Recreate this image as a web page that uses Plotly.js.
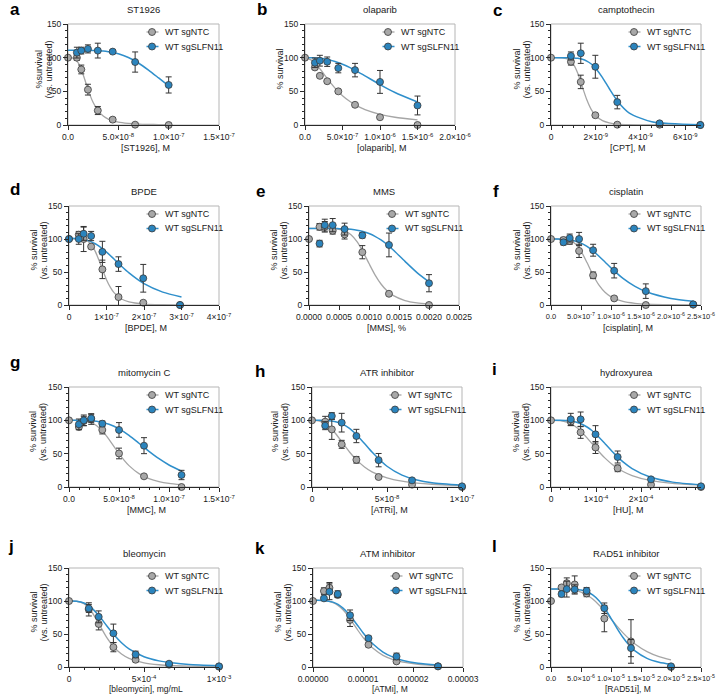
<!DOCTYPE html>
<html>
<head>
<meta charset="utf-8">
<script src="https://cdn.plot.ly/plotly-3.0.1.min.js"></script>
<style>
  html, body { margin: 0; padding: 0; background: #fff; }
  #chart { width: 718px; height: 694px; }
</style>
</head>
<body>
<div id="chart"></div>
<script>
// ---------- a: ST1926 ----------
const aDoseNtc = [0, 8.8e-9, 1.32e-8, 1.98e-8, 2.96e-8, 4.44e-8, 6.67e-8, 1.0e-7];
const aNtc = [100, 100, 82.5, 52.5, 21.5, 8, 0.5, 0];
const aNtcErr = [0, 4, 6.5, 8, 6, 3, 1, 0];
const aDoseSlfn = [8.8e-9, 1.32e-8, 1.98e-8, 2.96e-8, 4.44e-8, 6.67e-8, 1.0e-7];
const aSlfn = [107.5, 110.5, 113, 110.5, 109, 93.5, 59.5];
const aSlfnErr = [8, 5, 6, 11, 2, 15, 12];
const aFitX = [0, 0.5e-8, 1e-8, 1.5e-8, 2e-8, 2.5e-8, 3e-8, 3.5e-8, 4e-8, 5e-8, 6e-8, 7e-8, 8e-8, 9e-8, 1e-7];
const aFitNtc = [100, 99.3, 92.5, 74.9, 52.2, 33.3, 20.9, 13.3, 8.8, 4.2, 2.3, 1.3, 0.85, 0.6, 0.4];
const aFitSlfn = [111, 111, 111, 111, 110.9, 110.7, 110.3, 109.8, 108.8, 105.7, 100.2, 92.1, 81.6, 69.9, 58.0];
const aTickVals = [0, 5e-8, 1e-7, 1.5e-7];
const aTickText = ['0.0', '5.0×10<sup>-8</sup>', '1.0×10<sup>-7</sup>', '1.5×10<sup>-7</sup>'];

// ---------- b: olaparib ----------
const bDoseNtc = [0, 1.32e-7, 1.98e-7, 2.96e-7, 4.44e-7, 6.67e-7, 1.0e-6, 1.5e-6];
const bNtc = [100, 85.5, 73, 65, 50, 30, 11.5, 0];
const bNtcErr = [0, 3, 2, 2, 2, 2, 2, 1];
const bDoseSlfn = [1.32e-7, 1.98e-7, 2.96e-7, 4.44e-7, 6.67e-7, 1.0e-6, 1.5e-6];
const bSlfn = [92.5, 95.5, 94, 84.5, 81.5, 64, 29];
const bSlfnErr = [7, 8, 7, 7, 10, 17, 14];
const bFitX = [0, 1e-7, 2e-7, 3e-7, 4e-7, 5e-7, 6e-7, 7e-7, 8e-7, 1.0e-6, 1.2e-6, 1.5e-6];
const bFitNtc = [100, 95.3, 83.2, 68.5, 54.8, 43.5, 34.8, 28.0, 22.9, 15.9, 11.5, 7.7];
const bFitSlfn = [100, 99.8, 99.0, 97.3, 94.4, 90.3, 85.2, 79.3, 73.0, 60.0, 48.2, 34.1];
const bTickVals = [0, 5e-7, 1e-6, 1.5e-6, 2e-6];
const bTickText = ['0.0', '5.0×10<sup>-7</sup>', '1.0×10<sup>-6</sup>', '1.5×10<sup>-6</sup>', '2.0×10<sup>-6</sup>'];

// ---------- c: camptothecin ----------
const cDoseNtc = [0, 0.89e-9, 1.33e-9, 1.98e-9, 2.96e-9, 4.85e-9, 6.67e-9];
const cNtc = [100, 94, 64, 14.5, 0.5, 0.5, 0];
const cNtcErr = [0, 5, 10, 2, 1, 1, 0];
const cDoseSlfn = [0.89e-9, 1.33e-9, 1.98e-9, 2.96e-9, 4.85e-9, 6.67e-9];
const cSlfn = [102.5, 106.5, 86.5, 34, 2.5, 0];
const cSlfnErr = [6, 15, 17, 10, 2, 0];
const cFitX = [0, 0.5e-9, 0.8e-9, 1.0e-9, 1.2e-9, 1.4e-9, 1.6e-9, 1.8e-9, 2.0e-9, 2.3e-9, 2.6e-9, 3.0e-9, 3.5e-9, 4.5e-9, 6.67e-9];
const cFitNtc = [100, 99.8, 97.3, 90.5, 76.5, 56.7, 37.4, 22.9, 13.8, 6.6, 3.3, 1.4, 0.6, 0.1, 0];
const cFitSlfn = [100, 100, 99.9, 99.6, 99.0, 97.6, 94.9, 90.6, 84.0, 70.4, 54.2, 34.3, 17.8, 4.9, 0.55];
const cTickVals = [0, 2e-9, 4e-9, 6e-9];
const cTickText = ['0', '2×10<sup>-9</sup>', '4×10<sup>-9</sup>', '6×10<sup>-9</sup>'];

// ---------- d: BPDE ----------
const dDoseNtc = [0, 0.26e-7, 0.39e-7, 0.59e-7, 0.89e-7, 1.32e-7, 1.98e-7, 2.96e-7];
const dNtc = [100, 106.5, 100, 88.5, 54, 12, 3.5, 0];
const dNtcErr = [0, 5, 19, 3, 14, 16, 2, 0];
const dDoseSlfn = [0, 0.26e-7, 0.39e-7, 0.59e-7, 0.89e-7, 1.32e-7, 1.98e-7, 2.96e-7];
const dSlfn = [100, 100, 108, 104.5, 80.5, 62, 40.5, 0];
const dSlfnErr = [0, 8, 10, 7, 16, 11, 21, 1];
const dFitX = [0, 0.2e-7, 0.4e-7, 0.5e-7, 0.6e-7, 0.7e-7, 0.8e-7, 0.9e-7, 1.0e-7, 1.1e-7, 1.2e-7, 1.4e-7, 1.6e-7, 2.0e-7, 2.5e-7, 3.0e-7];
const dFitNtc = [100, 100, 98.9, 96.5, 91.0, 81.3, 67.7, 52.5, 38.3, 27.0, 18.7, 9.0, 4.6, 1.4, 0.4, 0.15];
const dFitSlfn = [101, 100.8, 99.4, 97.9, 95.7, 92.8, 89.2, 84.9, 80.2, 75.0, 69.6, 58.7, 48.6, 32.3, 19.5, 12.2];
const dTickVals = [0, 1e-7, 2e-7, 3e-7, 4e-7];
const dTickText = ['0', '1×10<sup>-7</sup>', '2×10<sup>-7</sup>', '3×10<sup>-7</sup>', '4×10<sup>-7</sup>'];

// ---------- e: MMS ----------
const eDoseNtc = [0, 1.76e-4, 2.63e-4, 3.95e-4, 5.93e-4, 8.89e-4, 1.333e-3, 2.0e-3];
const eNtc = [100, 118.5, 118.5, 112.5, 107, 80, 17, 0];
const eNtcErr = [0, 5, 8, 5, 7, 10, 2, 0];
const eDoseSlfn = [1.76e-4, 2.63e-4, 3.95e-4, 5.93e-4, 8.89e-4, 1.333e-3, 2.0e-3];
const eSlfn = [93, 121, 121, 115, 105.5, 91, 33];
const eSlfnErr = [5, 9, 10, 9, 4, 18, 13];
const eFitX = [0, 0.2e-3, 0.4e-3, 0.5e-3, 0.6e-3, 0.7e-3, 0.8e-3, 0.9e-3, 1.0e-3, 1.1e-3, 1.2e-3, 1.3e-3, 1.4e-3, 1.6e-3, 1.8e-3, 2.0e-3];
const eFitNtc = [116, 116, 115.7, 114.7, 112.2, 106.4, 96.0, 80.7, 62.8, 45.7, 31.8, 21.5, 14.5, 6.8, 3.3, 1.75];
const eFitSlfn = [116, 116, 116, 115.7, 115.4, 114.6, 113.4, 111.3, 108.3, 104.1, 98.5, 91.7, 83.7, 66.1, 49.1, 35.0];
const eTickVals = [0, 0.0005, 0.001, 0.0015, 0.002, 0.0025];
const eTickText = ['0.0000', '0.0005', '0.0010', '0.0015', '0.0020', '0.0025'];

// ---------- f: cisplatin ----------
const fDoseNtc = [0, 0.208e-6, 0.312e-6, 0.468e-6, 0.702e-6, 1.053e-6, 1.58e-6, 2.37e-6];
const fNtc = [100, 98.5, 97, 82, 45, 10, 0, 0.5];
const fNtcErr = [0, 4, 5, 10, 5, 3, 0, 1];
const fDoseSlfn = [0.208e-6, 0.312e-6, 0.468e-6, 0.702e-6, 1.053e-6, 1.58e-6, 2.37e-6];
const fSlfn = [95, 101.5, 100, 83, 52, 21, 1];
const fSlfnErr = [4, 6, 10, 9, 11, 11, 2];
const fFitX = [0, 0.1e-6, 0.2e-6, 0.3e-6, 0.4e-6, 0.5e-6, 0.6e-6, 0.7e-6, 0.8e-6, 0.9e-6, 1.0e-6, 1.2e-6, 1.4e-6, 1.6e-6, 2.0e-6, 2.37e-6];
const fFitNtc = [100, 100, 99.8, 98.3, 93.1, 81.7, 64.3, 45.5, 30.1, 19.3, 12.4, 5.4, 2.6, 1.36, 0.45, 0.2];
const fFitSlfn = [100, 100, 99.7, 98.9, 97.0, 93.7, 88.7, 82.0, 73.9, 65.1, 56.3, 40.3, 28.2, 19.6, 10.0, 5.7];
const fTickVals = [0, 5e-7, 1e-6, 1.5e-6, 2e-6, 2.5e-6];
const fTickText = ['0.0', '5.0×10<sup>-7</sup>', '1.0×10<sup>-6</sup>', '1.5×10<sup>-6</sup>', '2.0×10<sup>-6</sup>', '2.5×10<sup>-6</sup>'];

// ---------- g: mitomycin C ----------
const gDoseNtc = [0, 0.99e-8, 1.48e-8, 2.22e-8, 3.33e-8, 5.0e-8, 7.5e-8, 11.25e-8];
const gNtc = [100, 90, 99, 102, 85.6, 50.3, 16, 0];
const gNtcErr = [0, 4, 7, 8, 6, 8, 2, 0];
const gDoseSlfn = [0.99e-8, 1.48e-8, 2.22e-8, 3.33e-8, 5.0e-8, 7.5e-8, 11.25e-8];
const gSlfn = [94, 100, 103, 95, 85.6, 62, 18];
const gSlfnErr = [8, 8, 6, 4, 11, 12, 7];
const gFitX = [0, 1e-8, 1.5e-8, 2e-8, 2.5e-8, 3e-8, 3.5e-8, 4e-8, 4.5e-8, 5e-8, 5.5e-8, 6e-8, 7e-8, 8e-8, 9e-8, 10e-8, 11.25e-8];
const gFitNtc = [100, 99.9, 99.3, 97.7, 94.5, 89.0, 81.2, 71.4, 60.6, 50, 40.4, 32.1, 20.1, 12.7, 8.2, 5.5, 3.5];
const gFitSlfn = [100, 100, 99.85, 99.55, 98.96, 97.95, 96.4, 94.1, 91.1, 87.3, 82.7, 77.4, 65.6, 53.5, 42.4, 33.0, 23.9];
const gTickVals = [0, 5e-8, 1e-7, 1.5e-7];
const gTickText = ['0.0', '5.0×10<sup>-8</sup>', '1.0×10<sup>-7</sup>', '1.5×10<sup>-7</sup>'];

// ---------- h: ATR inhibitor ----------
const hDoseNtc = [0, 0.878e-8, 1.32e-8, 1.98e-8, 2.96e-8, 4.44e-8, 6.67e-8, 1.0e-7];
const hNtc = [100, 98, 86.4, 64, 40.8, 15, 3.5, 0];
const hNtcErr = [0, 8, 15, 6, 5, 2, 1, 0];
const hDoseSlfn = [0.878e-8, 1.32e-8, 1.98e-8, 2.96e-8, 4.44e-8, 6.67e-8, 1.0e-7];
const hSlfn = [92, 106.5, 96.5, 76.5, 40.3, 10, 1];
const hSlfnErr = [6, 5, 14, 10, 10, 2, 1];
const hFitX = [0, 0.5e-8, 1e-8, 1.5e-8, 2e-8, 2.5e-8, 3e-8, 3.5e-8, 4e-8, 5e-8, 6e-8, 7e-8, 8e-8, 1e-7];
const hFitNtc = [100, 99.0, 93.5, 82.2, 67.4, 52.5, 39.9, 30.1, 22.8, 13.7, 8.7, 5.8, 4.1, 2.2];
const hFitSlfn = [100, 100, 99.6, 98.2, 94.6, 87.9, 77.7, 65.3, 52.5, 31.1, 17.9, 10.5, 6.5, 2.7];
const hTickVals = [0, 5e-8, 1e-7];
const hTickText = ['0', '5×10<sup>-8</sup>', '1×10<sup>-7</sup>'];

// ---------- i: hydroxyurea ----------
const iDoseNtc = [0, 0.439e-4, 0.658e-4, 0.988e-4, 1.48e-4, 2.22e-4, 3.33e-4];
const iNtc = [100, 98, 82, 59.3, 28, 3.5, 0];
const iNtcErr = [0, 6, 9, 9, 5, 1, 0];
const iDoseSlfn = [0.439e-4, 0.658e-4, 0.988e-4, 1.48e-4, 2.22e-4, 3.33e-4];
const iSlfn = [101.5, 101.5, 79, 45, 11.5, 1];
const iSlfnErr = [9, 11, 13, 9, 2, 1];
const iFitX = [0, 0.2e-4, 0.4e-4, 0.5e-4, 0.6e-4, 0.7e-4, 0.8e-4, 0.9e-4, 1.0e-4, 1.2e-4, 1.4e-4, 1.6e-4, 1.8e-4, 2.2e-4, 2.7e-4, 3.33e-4];
const iFitNtc = [100, 99.6, 96.3, 92.7, 87.6, 81.1, 73.7, 65.8, 57.8, 43.3, 31.7, 23.3, 17.2, 9.8, 5.35, 2.8];
const iFitSlfn = [100, 100, 99.3, 98.3, 96.5, 93.8, 90.0, 85.1, 79.1, 65.0, 50.4, 37.6, 27.6, 14.9, 7.3, 3.3];
const iTickVals = [0, 1e-4, 2e-4];
const iTickText = ['0', '1×10<sup>-4</sup>', '2×10<sup>-4</sup>'];

// ---------- j: bleomycin ----------
const jDoseNtc = [0, 1.32e-4, 1.98e-4, 2.96e-4, 4.44e-4, 6.67e-4, 1.0e-3];
const jNtc = [100, 87.3, 65.2, 30.1, 11, 3.5, 0.5];
const jNtcErr = [0, 10, 9, 7, 3, 1, 0];
const jDoseSlfn = [1.32e-4, 1.98e-4, 2.96e-4, 4.44e-4, 6.67e-4, 1.0e-3];
const jSlfn = [88.8, 76, 51, 19, 5, 1];
const jSlfnErr = [6, 9, 14, 5, 2, 1];
const jFitX = [0, 0.5e-4, 1e-4, 1.5e-4, 2e-4, 2.5e-4, 3e-4, 3.5e-4, 4e-4, 5e-4, 6e-4, 7e-4, 8e-4, 1e-3];
const jFitNtc = [100, 99.6, 95.8, 84.1, 65.0, 45.3, 30.0, 19.7, 13.1, 6.3, 3.4, 2.0, 1.2, 0.55];
const jFitSlfn = [100, 99.7, 97.0, 89.7, 77.6, 62.9, 48.7, 36.7, 27.4, 15.6, 9.3, 5.9, 3.9, 2.0];
const jTickVals = [0, 5e-4, 1e-3];
const jTickText = ['0', '5×10<sup>-4</sup>', '1×10<sup>-3</sup>'];

// ---------- k: ATM inhibitor ----------
const kDoseNtc = [0, 2.19e-6, 3.29e-6, 4.94e-6, 7.41e-6, 11.1e-6, 16.7e-6, 25e-6];
const kNtc = [100, 115, 120, 109, 71.4, 33.7, 8.5, 1];
const kNtcErr = [0, 5, 8, 3, 10, 3, 2, 1];
const kDoseSlfn = [2.19e-6, 3.29e-6, 4.94e-6, 7.41e-6, 11.1e-6, 16.7e-6, 25e-6];
const kSlfn = [104, 114, 110.5, 78.4, 43.7, 16, 1];
const kSlfnErr = [2, 12, 5, 8, 3, 5, 1];
const kFitX = [0, 2e-6, 4e-6, 5e-6, 6e-6, 7e-6, 8e-6, 9e-6, 10e-6, 11e-6, 12e-6, 14e-6, 16e-6, 18e-6, 21e-6, 25e-6];
const kFitNtc = [101, 100.8, 97.7, 93.4, 86.5, 77.3, 66.5, 55.3, 44.9, 35.8, 28.3, 17.7, 11.3, 7.4, 4.2, 2.1];
const kFitSlfn = [101, 100.8, 98.3, 94.9, 89.3, 81.6, 72.3, 62.1, 52.0, 42.8, 34.8, 22.7, 14.9, 10.0, 5.8, 3.0];
const kTickVals = [0, 1e-5, 2e-5, 3e-5];
const kTickText = ['0.00000', '0.00001', '0.00002', '0.00003'];

// ---------- l: RAD51 inhibitor ----------
const lDoseNtc = [0, 1.76e-6, 2.63e-6, 3.95e-6, 5.93e-6, 8.89e-6, 13.33e-6, 20e-6];
const lNtc = [100, 120.6, 127, 125, 111.5, 73.4, 38.7, 0];
const lNtcErr = [0, 3, 8, 13, 5, 20, 33, 0];
const lDoseSlfn = [1.76e-6, 2.63e-6, 3.95e-6, 5.93e-6, 8.89e-6, 13.33e-6, 20e-6];
const lSlfn = [110.5, 118, 117.5, 115.5, 89, 28.6, 1];
const lSlfnErr = [4, 12, 7, 5, 8, 13, 1];
const lFitX = [0, 2e-6, 4e-6, 5e-6, 6e-6, 7e-6, 8e-6, 9e-6, 10e-6, 11e-6, 12e-6, 13e-6, 14e-6, 16e-6, 18e-6, 20e-6];
const lFitNtc = [118, 117.9, 116.1, 113.5, 109.1, 102.6, 94.0, 83.8, 72.8, 61.9, 51.7, 42.7, 35.0, 23.4, 15.8, 10.9];
const lFitSlfn = [118, 118, 117.6, 116.5, 114.0, 108.9, 100.5, 88.4, 73.8, 58.6, 44.7, 33.2, 24.3, 13.0, 7.2, 4.1];
const lTickVals = [0, 5e-6, 1e-5, 1.5e-5, 2e-5, 2.5e-5];
const lTickText = ['0.0', '5.0×10<sup>-6</sup>', '1.0×10<sup>-5</sup>', '1.5×10<sup>-5</sup>', '2.0×10<sup>-5</sup>', '2.5×10<sup>-5</sup>'];

const seriesNames = ['WT sgNTC', 'WT sgSLFN11'];
const yLines = ['% survival', '(vs. untreated)'];

// Panel descriptions: which arrays go where, plus per-panel labels
const panels = [
  { letter: 'a', title: 'ST1926', xTitle: '[ST1926], M', yTitle: ['%survival', '(vs. untreated)'], yTx: [-30, -20], xMax: 1.5e-7, tv: aTickVals, tt: aTickText, minor: null, tickSize: 8.5,
    dn: aDoseNtc, n: aNtc, ne: aNtcErr, ds: aDoseSlfn, s: aSlfn, se: aSlfnErr, fx: aFitX, fn: aFitNtc, fs: aFitSlfn },
  { letter: 'b', title: 'olaparib', xTitle: '[olaparib], M', yTitle: ['% survival'], yTx: [-26], xMax: 2e-6, tv: bTickVals, tt: bTickText, minor: null, tickSize: 8.5,
    dn: bDoseNtc, n: bNtc, ne: bNtcErr, ds: bDoseSlfn, s: bSlfn, se: bSlfnErr, fx: bFitX, fn: bFitNtc, fs: bFitSlfn },
  { letter: 'c', title: 'camptothecin', xTitle: '[CPT], M', yTitle: yLines, yTx: [-35, -25], xMax: 6.7e-9, tv: cTickVals, tt: cTickText, minor: 5e-10, tickSize: 8.5,
    dn: cDoseNtc, n: cNtc, ne: cNtcErr, ds: cDoseSlfn, s: cSlfn, se: cSlfnErr, fx: cFitX, fn: cFitNtc, fs: cFitSlfn },
  { letter: 'd', title: 'BPDE', xTitle: '[BPDE], M', yTitle: yLines, yTx: [-36, -26], xMax: 4e-7, tv: dTickVals, tt: dTickText, minor: null, tickSize: 8.5,
    dn: dDoseNtc, n: dNtc, ne: dNtcErr, ds: dDoseSlfn, s: dSlfn, se: dSlfnErr, fx: dFitX, fn: dFitNtc, fs: dFitSlfn },
  { letter: 'e', title: 'MMS', xTitle: '[MMS], %', yTitle: yLines, yTx: [-36, -26], xMax: 0.0025, tv: eTickVals, tt: eTickText, minor: null, tickSize: 8.5,
    dn: eDoseNtc, n: eNtc, ne: eNtcErr, ds: eDoseSlfn, s: eSlfn, se: eSlfnErr, fx: eFitX, fn: eFitNtc, fs: eFitSlfn },
  { letter: 'f', title: 'cisplatin', xTitle: '[cisplatin], M', yTitle: yLines, yTx: [-35, -25], xMax: 2.5e-6, tv: fTickVals, tt: fTickText, minor: null, tickSize: 7.5,
    dn: fDoseNtc, n: fNtc, ne: fNtcErr, ds: fDoseSlfn, s: fSlfn, se: fSlfnErr, fx: fFitX, fn: fFitNtc, fs: fFitSlfn },
  { letter: 'g', title: 'mitomycin C', xTitle: '[MMC], M', yTitle: yLines, yTx: [-36, -26], xMax: 1.5e-7, tv: gTickVals, tt: gTickText, minor: 1e-8, tickSize: 8.5,
    dn: gDoseNtc, n: gNtc, ne: gNtcErr, ds: gDoseSlfn, s: gSlfn, se: gSlfnErr, fx: gFitX, fn: gFitNtc, fs: gFitSlfn },
  { letter: 'h', title: 'ATR inhibitor', xTitle: '[ATRi], M', yTitle: yLines, yTx: [-37, -27], xMax: 1e-7, tv: hTickVals, tt: hTickText, minor: 1e-8, tickSize: 8.5,
    dn: hDoseNtc, n: hNtc, ne: hNtcErr, ds: hDoseSlfn, s: hSlfn, se: hSlfnErr, fx: hFitX, fn: hFitNtc, fs: hFitSlfn },
  { letter: 'i', title: 'hydroxyurea', xTitle: '[HU], M', yTitle: yLines, yTx: [-35, -25], xMax: 3.33e-4, tv: iTickVals, tt: iTickText, minor: 2e-5, tickSize: 8.5,
    dn: iDoseNtc, n: iNtc, ne: iNtcErr, ds: iDoseSlfn, s: iSlfn, se: iSlfnErr, fx: iFitX, fn: iFitNtc, fs: iFitSlfn },
  { letter: 'j', title: 'bleomycin', xTitle: '[bleomycin], mg/mL', yTitle: yLines, yTx: [-36, -26], xMax: 1e-3, tv: jTickVals, tt: jTickText, minor: 1e-4, tickSize: 8.5,
    dn: jDoseNtc, n: jNtc, ne: jNtcErr, ds: jDoseSlfn, s: jSlfn, se: jSlfnErr, fx: jFitX, fn: jFitNtc, fs: jFitSlfn },
  { letter: 'k', title: 'ATM inhibitor', xTitle: '[ATMi], M', yTitle: yLines, yTx: [-36, -26], xMax: 3e-5, tv: kTickVals, tt: kTickText, minor: null, tickSize: 8.5,
    dn: kDoseNtc, n: kNtc, ne: kNtcErr, ds: kDoseSlfn, s: kSlfn, se: kSlfnErr, fx: kFitX, fn: kFitNtc, fs: kFitSlfn },
  { letter: 'l', title: 'RAD51 inhibitor', xTitle: '[RAD51i], M', yTitle: yLines, yTx: [-35, -25], xMax: 2.5e-5, tv: lTickVals, tt: lTickText, minor: null, tickSize: 7.5,
    dn: lDoseNtc, n: lNtc, ne: lNtcErr, ds: lDoseSlfn, s: lSlfn, se: lSlfnErr, fx: lFitX, fn: lFitNtc, fs: lFitSlfn }
];

// Plot boxes in pixels: [left, right, top, bottom]
const W = 718, H = 694;
const boxes = [
  [68, 219, 24, 125], [305, 455, 24, 125], [551, 701, 24, 125],
  [69, 219, 206, 305], [309, 459, 206, 305], [551, 701, 206, 305],
  [69, 219, 387, 487], [312, 462, 387, 487], [551, 701, 387, 487],
  [69, 219, 568, 667], [313, 463, 568, 667], [551, 701, 568, 667]
];
// Distance from the x axis down to the centre of its title, and title size, per panel
const xTitleGap = [23, 23, 23, 23, 23, 23, 23, 23, 23, 21.5, 21.5, 21.5];
const xTitleSize = [9, 9, 9, 9, 9, 9, 9, 9, 9, 8.5, 8.5, 8.5];
// Panel letter positions (px)
const letterPos = [[8, 9], [255, 9], [491, 10], [8, 190], [254, 191], [491, 191],
                   [8, 362], [253, 371], [490, 369], [6, 546], [253, 548], [490, 546]];

const FONT = '"Liberation Sans", Arial, Helvetica, sans-serif';
const TXT = '#1a1a1a';
const AX = '#2a2a2a';
const GREY_FILL = '#a8a8a8', GREY_LINE = '#a6a6a6';
const BLUE_FILL = '#2b84bd', BLUE_LINE = '#2f8fcb';
const MARK_EDGE = '#3a3a3a';
const px = v => v / W;          // horizontal pixel -> paper
const py = v => 1 - v / H;      // vertical pixel -> paper

const traces = [];
const layout = {
  width: W, height: H,
  margin: { l: 0, r: 0, t: 0, b: 0 },
  paper_bgcolor: '#fff', plot_bgcolor: 'rgba(0,0,0,0)',
  font: { family: FONT, size: 9, color: TXT },
  showlegend: false,
  annotations: [], shapes: []
};

function label(x, y, text, opts) {
  layout.annotations.push(Object.assign({ xref: 'paper', yref: 'paper', x: px(x), y: py(y),
    xanchor: 'center', yanchor: 'middle', showarrow: false, text: text,
    font: { size: 9, family: FONT, color: TXT } }, opts || {}));
}

panels.forEach((p, i) => {
  const k = i + 1;
  const xa = k === 1 ? 'x' : 'x' + k;
  const ya = k === 1 ? 'y' : 'y' + k;
  const [L, R, T, B] = boxes[i];

  // fitted curves
  traces.push({ x: p.fx, y: p.fn, xaxis: xa, yaxis: ya, mode: 'lines', hoverinfo: 'skip',
    line: { color: GREY_LINE, width: 1.3, shape: 'spline', smoothing: 0.7 } });
  traces.push({ x: p.fx, y: p.fs, xaxis: xa, yaxis: ya, mode: 'lines', hoverinfo: 'skip',
    line: { color: BLUE_LINE, width: 1.5, shape: 'spline', smoothing: 0.7 } });

  // measured means with error bars
  traces.push({ x: p.dn, y: p.n, xaxis: xa, yaxis: ya, mode: 'markers', cliponaxis: false, name: seriesNames[0],
    marker: { size: 7, color: GREY_FILL, line: { color: MARK_EDGE, width: 0.8 } },
    error_y: { type: 'data', array: p.ne, visible: true, color: '#333', thickness: 1, width: 3 } });
  traces.push({ x: p.ds, y: p.s, xaxis: xa, yaxis: ya, mode: 'markers', cliponaxis: false, name: seriesNames[1],
    marker: { size: 7, color: BLUE_FILL, line: { color: MARK_EDGE, width: 0.8 } },
    error_y: { type: 'data', array: p.se, visible: true, color: '#333', thickness: 1, width: 3 } });

  const xKey = k === 1 ? 'xaxis' : 'xaxis' + k;
  const yKey = k === 1 ? 'yaxis' : 'yaxis' + k;
  layout[xKey] = {
    domain: [px(L), px(R)], anchor: ya, range: [0, p.xMax], fixedrange: true,
    tickmode: 'array', tickvals: p.tv, ticktext: p.tt, tickangle: 0,
    ticks: 'outside', ticklen: 4, tickwidth: 1, tickcolor: AX,
    showline: true, linecolor: AX, linewidth: 1, zeroline: false, showgrid: false,
    tickfont: { size: p.tickSize, family: FONT, color: TXT },
    automargin: false
  };
  if (p.minor) {
    layout[xKey].minor = { tickmode: 'linear', tick0: 0, dtick: p.minor, ticks: 'outside', ticklen: 2, tickwidth: 1, tickcolor: AX, showgrid: false };
  }
  layout[yKey] = {
    domain: [py(B), py(T)], anchor: xa, range: [0, 150], fixedrange: true,
    tickmode: 'linear', tick0: 0, dtick: 50,
    ticks: 'outside', ticklen: 4, tickwidth: 1, tickcolor: AX,
    minor: { tickmode: 'linear', tick0: 0, dtick: 10, ticks: 'outside', ticklen: 2, tickwidth: 1, tickcolor: AX, showgrid: false },
    showline: true, linecolor: AX, linewidth: 1, zeroline: false, showgrid: false,
    tickfont: { size: 8.5, family: FONT, color: TXT },
    automargin: false
  };

  // light frame on top and right
  layout.shapes.push({ type: 'rect', xref: xa + ' domain', yref: ya + ' domain', x0: 0, x1: 1, y0: 0, y1: 1,
    line: { color: '#b5b5b5', width: 1 }, fillcolor: 'rgba(0,0,0,0)', layer: 'below' });

  // titles
  label((L + R) / 2, T - 15, p.title, { font: { size: 9.5, family: FONT, color: TXT } });
  label((L + R) / 2 + 2, B + xTitleGap[i], p.xTitle, { font: { size: xTitleSize[i], family: FONT, color: TXT } });
  p.yTitle.forEach((t, j) => label(L + p.yTx[j], (T + B) / 2 - 5, t, { textangle: -90 }));
  label(letterPos[i][0], letterPos[i][1], '<b>' + p.letter + '</b>',
    { xanchor: 'left', font: { size: 17, family: FONT, color: '#000' } });

  // key: short line with a marker, then the series name
  const tx = R - 56;
  [[T + 8, GREY_LINE, GREY_FILL, 1.3], [T + 22.5, BLUE_LINE, BLUE_FILL, 1.5]].forEach((row, j) => {
    const [yy, lc, fc, lw] = row;
    layout.shapes.push({ type: 'line', xref: 'paper', yref: 'paper', x0: px(tx - 16.5), x1: px(tx - 4.5), y0: py(yy), y1: py(yy),
      line: { color: lc, width: lw } });
    layout.shapes.push({ type: 'circle', xref: 'paper', yref: 'paper', xsizemode: 'pixel', ysizemode: 'pixel',
      xanchor: px(tx - 11), yanchor: py(yy), x0: -3.5, x1: 3.5, y0: -3.5, y1: 3.5,
      fillcolor: fc, line: { color: MARK_EDGE, width: 0.8 } });
    label(tx, yy, seriesNames[j], { xanchor: 'left', font: { size: 9, family: FONT, color: TXT } });
  });
});

Plotly.newPlot('chart', traces, layout, { staticPlot: true, displayModeBar: false });
</script>
</body>
</html>
